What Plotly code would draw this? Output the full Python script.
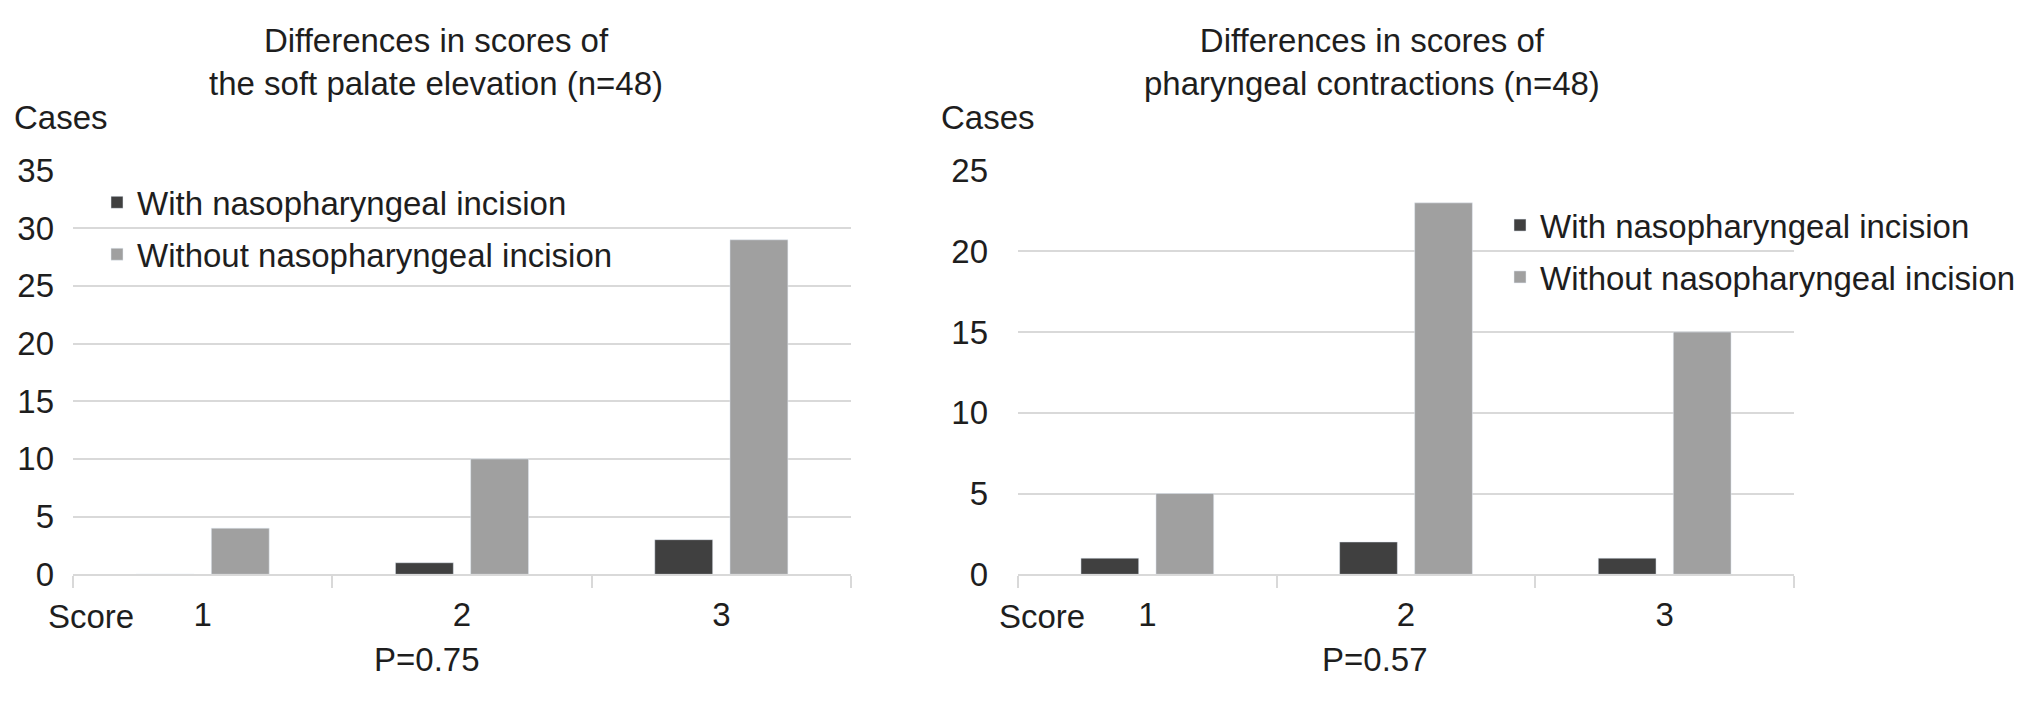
import plotly.graph_objects as go

# ---- data ----
scores = ["1", "2", "3"]
series_names = ["With nasopharyngeal incision", "Without nasopharyngeal incision"]
soft_palate_with = [0, 1, 3]
soft_palate_without = [4, 10, 29]
pharyngeal_with = [1, 2, 1]
pharyngeal_without = [5, 23, 15]
title_left = "Differences in scores of<br>the soft palate elevation (n=48)"
title_right = "Differences in scores of<br>pharyngeal contractions (n=48)"
p_left = "P=0.75"
p_right = "P=0.57"

W, H = 2032, 707
FONT = "Liberation Sans, Arial, Helvetica, sans-serif"
FS = 33
TXT = "#1e1e1e"
DARK = "#404040"
LIGHT = "#a0a0a0"
GRID = "#d9d9d9"


def px(x):
    return x / W


def py(y):
    return 1 - y / H


fig = go.Figure()
fig.add_trace(go.Bar(x=scores, y=soft_palate_with, name=series_names[0], marker_color=DARK,
                     xaxis="x", yaxis="y", legend="legend", legendgroup="a"))
fig.add_trace(go.Bar(x=scores, y=soft_palate_without, name=series_names[1], marker_color=LIGHT,
                     xaxis="x", yaxis="y", legend="legend", legendgroup="b"))
fig.add_trace(go.Bar(x=scores, y=pharyngeal_with, name=series_names[0], marker_color=DARK,
                     xaxis="x2", yaxis="y2", legend="legend2", legendgroup="c"))
fig.add_trace(go.Bar(x=scores, y=pharyngeal_without, name=series_names[1], marker_color=LIGHT,
                     xaxis="x2", yaxis="y2", legend="legend2", legendgroup="d"))

ydom = [py(587), py(161)]
xcommon = dict(type="category", showline=True, linecolor=GRID, linewidth=2,
               ticks="outside", tickson="boundaries", ticklen=12, tickwidth=2, tickcolor=GRID,
               showgrid=False, tickfont=dict(family=FONT, size=FS, color=TXT),
               ticklabelstandoff=10, fixedrange=True)
ycommon = dict(showline=False, ticks="", showgrid=True, gridcolor=GRID, gridwidth=2,
               zeroline=False, dtick=5, tickfont=dict(family=FONT, size=FS, color=TXT),
               fixedrange=True)

legend_common = dict(font=dict(family=FONT, size=FS, color=TXT), bgcolor="rgba(0,0,0,0)",
                     traceorder="grouped", tracegroupgap=6, xanchor="left", yanchor="top",
                     itemclick=False, itemdoubleclick=False)

ann_font = dict(family=FONT, size=FS, color=TXT)
annotations = [
    dict(text=title_left, x=px(436), y=py(46), xref="paper", yref="paper", showarrow=False,
         xanchor="center", yanchor="middle", font=ann_font),
    dict(text=title_right, x=px(1372), y=py(46), xref="paper", yref="paper", showarrow=False,
         xanchor="center", yanchor="middle", font=ann_font),
    dict(text="Cases", x=px(12), y=py(105), xref="paper", yref="paper", showarrow=False,
         xanchor="left", yanchor="middle", font=ann_font),
    dict(text="Cases", x=px(939), y=py(105), xref="paper", yref="paper", showarrow=False,
         xanchor="left", yanchor="middle", font=ann_font),
    dict(text="Score", x=px(91), y=py(632), xref="paper", yref="paper", showarrow=False,
         xanchor="center", yanchor="middle", font=ann_font),
    dict(text="Score", x=px(1042), y=py(632), xref="paper", yref="paper", showarrow=False,
         xanchor="center", yanchor="middle", font=ann_font),
    dict(text=p_left, x=px(427), y=py(677), xref="paper", yref="paper", showarrow=False,
         xanchor="center", yanchor="middle", font=ann_font),
    dict(text=p_right, x=px(1375), y=py(677), xref="paper", yref="paper", showarrow=False,
         xanchor="center", yanchor="middle", font=ann_font),
]

fig.update_layout(
    width=W, height=H,
    margin=dict(l=0, r=0, t=0, b=0),
    paper_bgcolor="white", plot_bgcolor="white",
    barmode="group", bargap=0.42, bargroupgap=0.23,
    font=dict(family=FONT, size=FS, color=TXT),
    xaxis=dict(domain=[px(73), px(851)], anchor="y", **xcommon),
    yaxis=dict(domain=ydom, anchor="x", range=[0, 35], ticklabelstandoff=18, **ycommon),
    xaxis2=dict(domain=[px(1018), px(1794)], anchor="y2", **xcommon),
    yaxis2=dict(domain=ydom, anchor="x2", range=[0, 25], ticklabelstandoff=29, **ycommon),
    legend=dict(x=px(97), y=py(165), **legend_common),
    legend2=dict(x=px(1500), y=py(189), **legend_common),
    annotations=annotations,
    showlegend=True,
)

fig.write_html("out.html", config={"displayModeBar": False},
               post_script="document.body.style.margin='0';document.body.style.overflow='hidden';")
